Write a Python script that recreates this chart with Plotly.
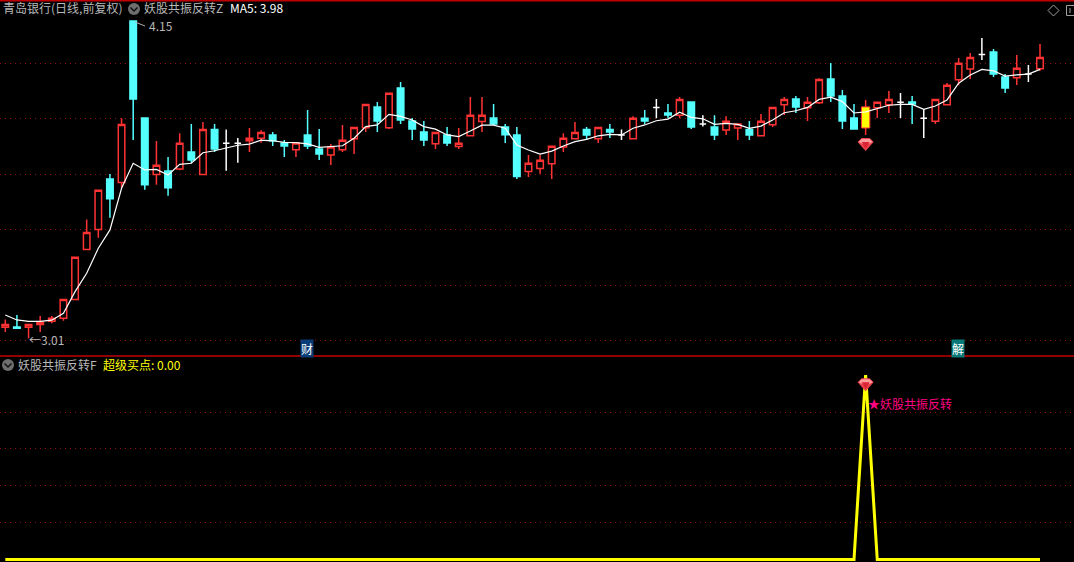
import plotly.graph_objects as go

W, H = 1074, 562

opens = [3.049,3.050,3.049,3.059,3.070,3.081,3.149,3.329,3.401,3.582,
3.570,4.151,3.802,3.599,3.611,3.618,3.680,3.599,3.761,3.711,
3.711,3.720,3.729,3.741,3.712,3.688,3.741,3.690,3.669,3.688,
3.727,3.767,3.842,3.767,3.910,3.791,3.752,3.709,3.741,3.699,
3.738,3.789,3.802,3.770,3.741,3.609,3.620,3.637,3.698,3.727,
3.761,3.727,3.761,3.741,3.727,3.801,3.840,3.820,3.812,3.860,
3.780,3.770,3.759,3.766,3.761,3.738,3.778,3.850,3.870,3.839,
3.857,3.942,3.881,3.802,3.766,3.839,3.850,3.859,3.860,3.801,
3.790,3.850,3.940,3.978,4.031,4.040,3.950,3.947,3.960,3.979]
highs = [3.077,3.093,3.059,3.089,3.089,3.149,3.301,3.437,3.542,3.600,
3.801,4.151,3.802,3.719,3.662,3.747,3.780,3.788,3.780,3.761,
3.730,3.766,3.758,3.752,3.723,3.712,3.831,3.762,3.708,3.777,
3.768,3.851,3.860,3.891,3.932,3.802,3.791,3.750,3.770,3.766,
3.878,3.878,3.852,3.780,3.770,3.669,3.669,3.700,3.747,3.788,
3.770,3.768,3.780,3.761,3.808,3.831,3.870,3.852,3.878,3.860,
3.812,3.812,3.808,3.780,3.791,3.816,3.840,3.878,3.881,3.878,
3.945,4.000,3.903,3.852,3.867,3.859,3.899,3.892,3.881,3.834,
3.869,3.928,4.018,4.036,4.090,4.050,3.960,4.029,3.993,4.068]
lows = [3.032,3.045,3.009,3.032,3.063,3.072,3.149,3.329,3.371,3.443,
3.551,3.723,3.544,3.562,3.522,3.614,3.639,3.599,3.680,3.612,
3.641,3.680,3.713,3.701,3.662,3.662,3.690,3.651,3.633,3.680,
3.672,3.752,3.752,3.762,3.780,3.723,3.701,3.690,3.701,3.690,
3.738,3.752,3.777,3.712,3.582,3.590,3.601,3.582,3.680,3.727,
3.725,3.712,3.730,3.723,3.727,3.780,3.801,3.801,3.801,3.762,
3.771,3.723,3.741,3.723,3.723,3.738,3.770,3.813,3.820,3.791,
3.852,3.860,3.762,3.762,3.741,3.802,3.820,3.802,3.780,3.730,
3.780,3.849,3.920,3.942,4.011,3.950,3.892,3.921,3.932,3.972]
closes = [3.059,3.045,3.059,3.067,3.081,3.149,3.301,3.390,3.542,3.511,
3.779,3.870,3.562,3.632,3.551,3.711,3.651,3.761,3.690,3.711,
3.711,3.729,3.750,3.720,3.701,3.712,3.701,3.672,3.698,3.722,
3.768,3.851,3.791,3.891,3.795,3.762,3.723,3.750,3.712,3.711,
3.812,3.812,3.780,3.742,3.591,3.639,3.650,3.700,3.729,3.750,
3.741,3.768,3.752,3.741,3.801,3.791,3.840,3.813,3.869,3.770,
3.780,3.741,3.790,3.780,3.741,3.790,3.840,3.869,3.842,3.859,
3.941,3.881,3.791,3.762,3.842,3.859,3.869,3.859,3.852,3.801,
3.869,3.920,3.999,4.020,4.031,3.960,3.910,3.981,3.960,4.020]
ma5 = [3.093,3.075,3.070,3.070,3.074,3.099,3.177,3.243,3.333,3.399,
3.549,3.639,3.615,3.617,3.597,3.635,3.639,3.677,3.684,3.693,
3.704,3.708,3.722,3.720,3.714,3.713,3.709,3.696,3.698,3.702,
3.729,3.771,3.777,3.815,3.808,3.795,3.771,3.762,3.741,3.735,
3.755,3.776,3.776,3.765,3.705,3.687,3.672,3.683,3.701,3.717,
3.725,3.738,3.743,3.741,3.765,3.777,3.792,3.798,3.823,3.804,
3.799,3.779,3.783,3.779,3.765,3.773,3.795,3.821,3.828,3.840,
3.869,3.877,3.861,3.820,3.824,3.837,3.848,3.851,3.851,3.833,
3.845,3.867,3.927,3.957,3.977,3.972,3.953,3.957,3.960,3.977]
signal = [0,0,0,0,0,0,0,0,0,0, 0,0,0,0,0,0,0,0,0,0, 0,0,0,0,0,0,0,0,0,0,
0,0,0,0,0,0,0,0,0,0, 0,0,0,0,0,0,0,0,0,0, 0,0,0,0,0,0,0,0,0,0,
0,0,0,0,0,0,0,0,0,0, 0,0,0,0,100,0,0,0,0,0, 0,0,0,0,0,0,0,0,0,0]
days = list(range(len(closes)))
signal_day = 74
price_grid = [3.0, 3.2, 3.4, 3.6, 3.8, 4.0]
signal_grid = [20, 40, 60, 80]

RED = "#ff3333"
CYAN = "#54ffff"
WHITE = "#ffffff"
YELLOW = "#ffff00"
GRID = "#901010"
PANEL = "#c00000"
GRAY = "#b8b8b8"
FONT = "Noto Sans CJK SC"


def px(x):
    return x / W


def py(y):
    return 1 - y / H


up = [i for i in days if closes[i] > opens[i] and i != signal_day]
down = [i for i in days if closes[i] < opens[i]]
flat = [i for i in days if closes[i] == opens[i]]

fig = go.Figure()


def only(idx, arr):
    keep = set(idx)
    return [arr[i] if i in keep else None for i in days]


def candles(idx, line, fill, lw=1.5):
    side = dict(line=dict(color=line, width=lw), fillcolor=fill)
    fig.add_trace(go.Candlestick(
        x=days, open=only(idx, opens), high=only(idx, highs),
        low=only(idx, lows), close=only(idx, closes),
        increasing=side, decreasing=side, whiskerwidth=0,
        xaxis="x", yaxis="y", showlegend=False, hoverinfo="skip"))


candles(up, RED, "#000000")
candles(down, CYAN, CYAN)
candles(flat, WHITE, WHITE)

# the signal day: yellow body with a red outline and red wicks
s = signal_day
fig.add_trace(go.Bar(x=[days[s]], y=[closes[s] - opens[s]], base=[opens[s]], width=0.72,
                     marker=dict(color=YELLOW, line=dict(color=RED, width=1)),
                     xaxis="x", yaxis="y", showlegend=False, hoverinfo="skip"))
fig.add_trace(go.Scatter(x=[days[s], days[s], None, days[s], days[s]],
                         y=[highs[s], closes[s], None, opens[s], lows[s]],
                         mode="lines", line=dict(color=RED, width=1.5),
                         xaxis="x", yaxis="y", showlegend=False, hoverinfo="skip"))

fig.add_trace(go.Scatter(x=days, y=ma5, mode="lines", line=dict(color=WHITE, width=1.2),
                         xaxis="x", yaxis="y", showlegend=False, hoverinfo="skip"))
fig.add_trace(go.Scatter(x=days, y=signal, mode="lines", line=dict(color=YELLOW, width=3),
                         xaxis="x2", yaxis="y2", showlegend=False, hoverinfo="skip"))

shapes = []


def gem(xref, yref, yval):
    common = dict(type="path", xref=xref, yref=yref, xsizemode="pixel", ysizemode="pixel",
                  xanchor=signal_day, yanchor=yval)
    shapes.append(dict(common, path="M-8,2 L-4,6 L4,6 L8,2 L0,-7 Z",
                       fillcolor="#ee3f4c", line=dict(width=0)))
    shapes.append(dict(common, path="M-7,2 L-4,5 L4,5 L7,2 L3,0 L-3,0 Z",
                       fillcolor="#ff9c9c", line=dict(width=0)))
    shapes.append(dict(common, path="M-4,2 L0,-5 L4,2 Z",
                       fillcolor="#d82434", line=dict(width=0)))


gem("x", "y", 3.708)
gem("x2", "y2", 95.1)


def icon(cx, cy):
    shapes.append(dict(type="circle", xref="paper", yref="paper",
                       x0=px(cx - 6), x1=px(cx + 6), y0=py(cy + 6), y1=py(cy - 6),
                       fillcolor="#6e6e6e", line=dict(width=0)))
    shapes.append(dict(type="path", xref="paper", yref="paper",
                       path=f"M{px(cx-3.5)},{py(cy-1.5)} L{px(cx)},{py(cy+2)} L{px(cx+3.5)},{py(cy-1.5)}",
                       line=dict(color="#111111", width=1.5)))


icon(134, 9)
icon(8, 365)

# panel rules
for y, col, w in [(0.5, PANEL, 2), (356, PANEL, 1.5)]:
    shapes.append(dict(type="line", xref="paper", yref="paper", x0=0, x1=1,
                       y0=py(y), y1=py(y), line=dict(color=col, width=w)))

# top-right window controls
shapes.append(dict(type="path", xref="paper", yref="paper",
                   path=f"M{px(1048)},{py(10.5)} L{px(1053.5)},{py(5)} L{px(1059)},{py(10.5)} L{px(1053.5)},{py(16)} Z",
                   line=dict(color="#a0a0a0", width=1), fillcolor="rgba(0,0,0,0)"))
shapes.append(dict(type="rect", xref="paper", yref="paper",
                   x0=px(1066.5), x1=px(1078), y0=py(15.5), y1=py(5.5),
                   line=dict(color="#a0a0a0", width=1), fillcolor="rgba(0,0,0,0)"))
shapes.append(dict(type="line", xref="paper", yref="paper",
                   x0=px(1070), x1=px(1070), y0=py(13), y1=py(8),
                   line=dict(color="#a0a0a0", width=1)))

# pointer next to the high
shapes.append(dict(type="path", xref="paper", yref="paper",
                   path=f"M{px(135)},{py(22)} L{px(145)},{py(26)}",
                   line=dict(color="#b0b0b0", width=1)))

annotations = []


def text(x, y, s, color=GRAY, size=12, bg=None):
    annotations.append(dict(xref="paper", yref="paper", x=px(x), y=py(y), text=s, showarrow=False,
                            xanchor="left", yanchor="middle", align="left",
                            font=dict(family=FONT, size=size, color=color),
                            bgcolor=bg, borderpad=0))


text(2, 8, "青岛银行(日线,前复权)")
text(143, 8, "妖股共振反转Z")
text(229, 8, "MA5: 3.98", WHITE)
text(148, 26, "4.15", GRAY)
text(28, 339, "←3.01", GRAY)
text(17, 364, "妖股共振反转F")
text(102, 364, "超级买点:", YELLOW)
text(156, 364, "0.00", YELLOW)
text(867, 403, "★妖股共振反转", "#ff0080")
text(300, 348, "财", WHITE, 12, "#0a3c78")
text(951, 348, "解", WHITE, 12, "#0a7a7a")

xr = [-5.3 / 11.626, (W - 5.3) / 11.626]
fig.update_layout(
    width=W, height=H, autosize=False,
    margin=dict(l=0, r=0, t=0, b=0),
    paper_bgcolor="#000000", plot_bgcolor="#000000",
    boxgap=0.2, boxmode="overlay", barmode="overlay", showlegend=False,
    shapes=shapes, annotations=annotations,
    xaxis=dict(domain=[0, 1], range=xr, visible=False, rangeslider=dict(visible=False)),
    xaxis2=dict(domain=[0, 1], range=xr, visible=False, anchor="y2", rangeslider=dict(visible=False)),
    yaxis=dict(domain=[py(356), 1], range=[2.9452, 4.2268], tickvals=price_grid,
               showticklabels=False, showgrid=True, gridcolor=GRID, griddash="1px,4px",
               gridwidth=1, zeroline=False, showline=False, ticks="", anchor="x"),
    yaxis2=dict(domain=[0, py(356)], range=[-1.36, 110.4], tickvals=signal_grid,
                showticklabels=False, showgrid=True, gridcolor=GRID, griddash="1px,4px",
                gridwidth=1, zeroline=False, showline=False, ticks="", anchor="x2"),
)

fig.write_html("out.html", config=dict(displayModeBar=False),
               post_script="document.body.style.margin='0';document.body.style.background='#000';")
